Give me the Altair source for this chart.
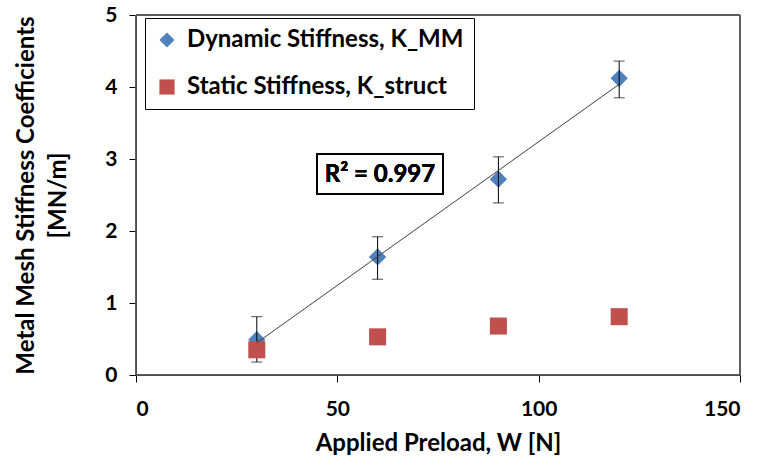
import altair as alt
import pandas as pd

# Data
preload = [30, 60, 90, 120]
k_mm = [0.49, 1.64, 2.72, 4.12]
k_mm_lo = [0.18, 1.33, 2.39, 3.85]
k_mm_hi = [0.81, 1.92, 3.03, 4.36]
k_struct = [0.35, 0.53, 0.68, 0.81]
series_names = ["Dynamic Stiffness, K_MM", "Static Stiffness, K_struct"]
r2_label = "R² = 0.997"

FONT = "Lato"
BLUE = "#4F81BD"
RED = "#C0504D"

dyn = pd.DataFrame({"W": preload, "K": k_mm, "lo": k_mm_lo, "hi": k_mm_hi,
                    "series": series_names[0]})
sta = pd.DataFrame({"W": preload, "K": k_struct, "series": series_names[1]})

xscale = alt.Scale(domain=[0, 150], nice=False)
yscale = alt.Scale(domain=[0, 5], nice=False)

xaxis = alt.Axis(values=[0, 50, 100, 150], title="Applied Preload, W [N]",
                 format="d", grid=False, domainColor="black", tickColor="black",
                 labelFont=FONT, labelFontSize=21, labelFontWeight="bold",
                 labelColor="black", titleFont=FONT, titleFontSize=24,
                 titleFontWeight="bold", titleColor="black",
                 tickSize=7, labelPadding=16, titlePadding=12)
yaxis = alt.Axis(values=[0, 1, 2, 3, 4, 5], format="d",
                 title=["Metal Mesh Stiffness Coefficients", "[MN/m]"],
                 grid=False, domainColor="black", tickColor="black",
                 labelFont=FONT, labelFontSize=21, labelFontWeight="bold",
                 labelColor="black", titleFont=FONT, titleFontSize=24,
                 titleFontWeight="bold", titleColor="black",
                 tickSize=7, labelPadding=12, titlePadding=34)

color = alt.Color("series:N",
                  scale=alt.Scale(domain=series_names, range=[BLUE, RED]),
                  legend=alt.Legend(title=None, orient="none", legendX=9, legendY=3,
                                    strokeColor="black", fillColor="white",
                                    padding=10, labelFont=FONT, labelFontSize=24,
                                    labelFontWeight="bold", labelColor="black",
                                    symbolSize=230, symbolStrokeWidth=0,
                                    rowPadding=23, labelLimit=500, labelOffset=8))
shape = alt.Shape("series:N",
                  scale=alt.Scale(domain=series_names, range=["diamond", "square"]),
                  legend=None)

base_x = alt.X("W:Q", scale=xscale, axis=xaxis)
base_y = alt.Y("K:Q", scale=yscale, axis=yaxis)

dyn_pts = alt.Chart(dyn).mark_point(filled=True, size=300, opacity=1).encode(
    x=base_x, y=base_y, color=color, shape=shape)

err_rule = alt.Chart(dyn).mark_rule(color="black", strokeWidth=1).encode(
    x="W:Q", y="lo:Q", y2="hi:Q")
err_lo = alt.Chart(dyn).mark_tick(color="black", orient="horizontal", size=11,
                                  thickness=1).encode(x="W:Q", y="lo:Q")
err_hi = alt.Chart(dyn).mark_tick(color="black", orient="horizontal", size=11,
                                  thickness=1).encode(x="W:Q", y="hi:Q")

sta_pts = alt.Chart(sta).mark_point(filled=True, size=290, opacity=1).encode(
    x="W:Q", y="K:Q", color=color, shape=shape)

trend = alt.Chart(dyn).transform_regression("W", "K", extent=[30, 120]).mark_line(
    color="#404040", strokeWidth=1).encode(x="W:Q", y="K:Q")

r2_box = alt.Chart(dyn).mark_rect(fill="white", stroke="black", strokeWidth=2).encode(
    x=alt.value(181), x2=alt.value(307), y=alt.value(139), y2=alt.value(179))
r2_text = alt.Chart(dyn).mark_text(font=FONT, fontSize=24, fontWeight="bold",
                                   color="black", align="center", baseline="middle").encode(
    x=alt.value(244), y=alt.value(160), text=alt.value(r2_label))

frame = alt.Chart(dyn).mark_rect(fill=None, stroke="#555555", strokeWidth=1).encode(
    x=alt.value(0), x2=alt.value(604), y=alt.value(0), y2=alt.value(360))

chart = alt.layer(frame, dyn_pts, err_rule, err_lo, err_hi, sta_pts, trend,
                  r2_box, r2_text).properties(
    width=604, height=360,
    autosize=alt.AutoSizeParams(type="none"),
    padding={"left": 136, "top": 15, "right": 22, "bottom": 92},
    background="white",
).configure_view(stroke=None).configure_axis(titleLineHeight=32)

chart.save("out.html", embed_options={"renderer": "svg", "actions": False})
